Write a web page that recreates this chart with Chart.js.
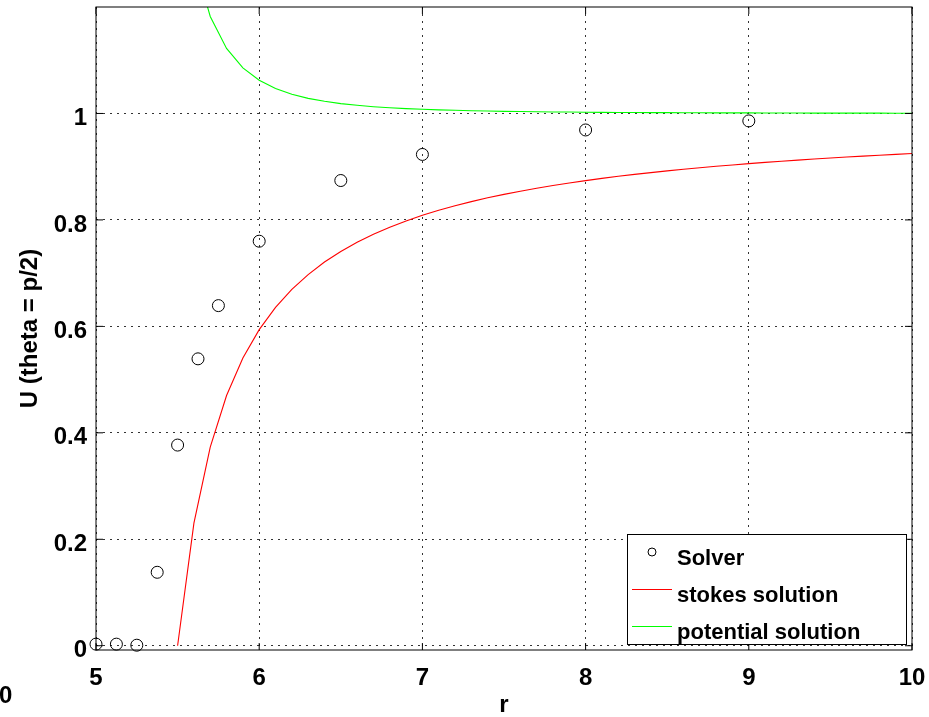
<!DOCTYPE html>
<html>
<head>
<meta charset="utf-8">
<script src="https://cdn.jsdelivr.net/npm/chart.js@4/dist/chart.umd.min.js"></script>
<style>
  html, body { margin: 0; padding: 0; background: #fff; }
  #wrap { width: 929px; height: 717px; }
</style>
</head>
<body>
<div id="wrap"><canvas id="c" width="929" height="717"></canvas></div>
<script>
// Solver samples of U along theta = pi/2
const rSolver = [5, 5.125, 5.25, 5.375, 5.5, 5.625, 5.75, 6, 6.5, 7, 8, 9];
const uSolver = [0.003, 0.003, 0.001, 0.138, 0.377, 0.539, 0.639, 0.760, 0.874, 0.923, 0.969, 0.986];

// Radii at which the analytic curves are sampled
const rCurve = [5.5, 5.6, 5.7, 5.8, 5.9, 6.0, 6.1, 6.2, 6.3, 6.4, 6.5, 6.6, 6.7, 6.8, 6.9,
                7.0, 7.1, 7.2, 7.3, 7.4, 7.5, 7.6, 7.7, 7.8, 7.9, 8.0, 8.1, 8.2, 8.3, 8.4,
                8.5, 8.6, 8.7, 8.8, 8.9, 9.0, 9.1, 9.2, 9.3, 9.4, 9.5, 9.6, 9.7, 9.8, 9.9, 10.0];
const uStokes = [0, 0.2303, 0.3732, 0.4702, 0.5405, 0.5938, 0.6356, 0.6694, 0.6973, 0.7208,
                 0.7407, 0.7580, 0.7731, 0.7863, 0.7981, 0.8086, 0.8181, 0.8266, 0.8344, 0.8415,
                 0.8480, 0.8540, 0.8595, 0.8646, 0.8694, 0.8738, 0.8780, 0.8819, 0.8855, 0.8889,
                 0.8921, 0.8952, 0.8980, 0.9007, 0.9033, 0.9058, 0.9081, 0.9103, 0.9124, 0.9144,
                 0.9163, 0.9182, 0.9199, 0.9216, 0.9232, 0.9248];
const uPotential = [1.5, 1.2894, 1.1822, 1.1221, 1.0857, 1.0625, 1.0470, 1.0362, 1.0284, 1.0228,
                    1.0185, 1.0153, 1.0127, 1.0107, 1.0091, 1.0078, 1.0067, 1.0059, 1.0051, 1.0045,
                    1.0040, 1.0036, 1.0032, 1.0028, 1.0026, 1.0023, 1.0021, 1.0019, 1.0017, 1.0016,
                    1.0015, 1.0013, 1.0012, 1.0011, 1.0011, 1.0010, 1.0009, 1.0008, 1.0008, 1.0007,
                    1.0007, 1.0006, 1.0006, 1.0006, 1.0005, 1.0005];

// Axis ticks and their labels
const xTicks = [5, 6, 7, 8, 9, 10];
const xTickLabels = ['5', '6', '7', '8', '9', '10'];
const yTicks = [0, 0.2, 0.4, 0.6, 0.8, 1.0];
const yTickLabels = ['0', '0.2', '0.4', '0.6', '0.8', '1'];

const seriesLabels = ['Solver', 'stokes solution', 'potential solution'];
const FONT = '"Liberation Sans", Arial, Helvetica, sans-serif';

function pts(xs, ys) { return xs.map((x, i) => ({ x: x, y: ys[i] })); }

// Frame, inward tick marks, boxed legend and the stray edge label
const framePlugin = {
  id: 'frame',
  afterDraw(chart) {
    const ctx = chart.ctx;
    const a = chart.chartArea;
    const xs = chart.scales.x, ys = chart.scales.y;
    ctx.save();
    ctx.strokeStyle = '#000';
    ctx.lineWidth = 1;
    ctx.setLineDash([]);
    // inward ticks on all four sides
    const tl = 7;
    ctx.beginPath();
    xTicks.forEach(v => {
      const px = xs.getPixelForValue(v);
      ctx.moveTo(px, a.bottom); ctx.lineTo(px, a.bottom - tl);
      ctx.moveTo(px, a.top); ctx.lineTo(px, a.top + tl);
    });
    yTicks.forEach(v => {
      const py = ys.getPixelForValue(v);
      ctx.moveTo(a.left, py); ctx.lineTo(a.left + tl, py);
      ctx.moveTo(a.right, py); ctx.lineTo(a.right - tl, py);
    });
    ctx.stroke();
    // axes box
    ctx.strokeRect(a.left, a.top, a.right - a.left, a.bottom - a.top);

    // legend
    const lx = 627, ly = 534, lw = 279, lh = 110;
    ctx.fillStyle = '#fff';
    ctx.fillRect(lx, ly, lw, lh);
    ctx.strokeRect(lx + 0.5, ly + 0.5, lw, lh);
    ctx.font = 'bold 22px ' + FONT;
    ctx.fillStyle = '#000';
    ctx.textAlign = 'left';
    ctx.textBaseline = 'alphabetic';
    const ds = chart.data.datasets;
    // Solver entry
    ctx.beginPath();
    ctx.arc(652, 552, 4, 0, Math.PI * 2);
    ctx.strokeStyle = ds[0].borderColor;
    ctx.stroke();
    ctx.fillText(ds[0].label, 677, 565);
    // line entries
    ctx.beginPath();
    ctx.strokeStyle = ds[1].borderColor;
    ctx.moveTo(632, 589.5); ctx.lineTo(672, 589.5);
    ctx.stroke();
    ctx.fillText(ds[1].label, 677, 602);
    ctx.beginPath();
    ctx.strokeStyle = ds[2].borderColor;
    ctx.moveTo(632, 626.5); ctx.lineTo(672, 626.5);
    ctx.stroke();
    ctx.fillText(ds[2].label, 677, 638.5);

    // partially visible label at the lower-left edge
    ctx.font = 'bold 24px ' + FONT;
    ctx.fillText('0', -1, 703);
    ctx.restore();
  }
};

new Chart(document.getElementById('c'), {
  type: 'scatter',
  data: {
    datasets: [
      {
        label: seriesLabels[0],
        data: pts(rSolver, uSolver),
        showLine: false,
        pointStyle: 'circle',
        pointRadius: 6,
        pointBorderWidth: 1,
        borderColor: '#000',
        backgroundColor: 'rgba(0,0,0,0)',
        pointBackgroundColor: 'rgba(0,0,0,0)',
        clip: false
      },
      {
        label: seriesLabels[1],
        data: pts(rCurve, uStokes),
        showLine: true,
        borderColor: '#ff0000',
        borderWidth: 1.1,
        pointRadius: 0,
        tension: 0,
        clip: 0
      },
      {
        label: seriesLabels[2],
        data: pts(rCurve, uPotential),
        showLine: true,
        borderColor: '#00ff00',
        borderWidth: 1.1,
        pointRadius: 0,
        tension: 0,
        clip: 0
      }
    ]
  },
  options: {
    responsive: false,
    animation: false,
    devicePixelRatio: 1,
    layout: { padding: { left: 0, top: 7, right: 17, bottom: 0 } },
    plugins: {
      legend: { display: false },
      tooltip: { enabled: false }
    },
    scales: {
      x: {
        type: 'linear',
        min: 5,
        max: 10,
        afterBuildTicks: s => { s.ticks = xTicks.map(v => ({ value: v })); },
        afterFit: s => { s.height = 67; s.paddingLeft = 0; s.paddingRight = 0; },
        ticks: {
          autoSkip: false,
          maxRotation: 0,
          padding: 14,
          color: '#000',
          font: { family: FONT, size: 24, weight: 'bold' },
          callback: (v) => xTickLabels[xTicks.indexOf(v)]
        },
        grid: { color: 'rgba(0,0,0,0.8)', lineWidth: 1, drawTicks: false },
        border: { display: false, dash: [2, 5] },
        title: {
          display: true,
          text: 'r',
          color: '#000',
          font: { family: FONT, size: 24, weight: 'bold', lineHeight: 1 },
          padding: { top: 0, bottom: 0 }
        }
      },
      y: {
        type: 'linear',
        min: -0.008,
        max: 1.2,
        afterBuildTicks: s => { s.ticks = yTicks.map(v => ({ value: v })); },
        afterFit: s => { s.width = 96; s.paddingTop = 0; s.paddingBottom = 0; },
        ticks: {
          autoSkip: false,
          padding: 9,
          labelOffset: 5,
          color: '#000',
          font: { family: FONT, size: 24, weight: 'bold' },
          callback: (v) => yTickLabels[yTicks.findIndex(t => Math.abs(t - v) < 1e-9)]
        },
        grid: { color: 'rgba(0,0,0,0.8)', lineWidth: 1, drawTicks: false },
        border: { display: false, dash: [2, 5] },
        title: {
          display: true,
          text: 'U (theta = p/2)',
          color: '#000',
          font: { family: FONT, size: 24, weight: 'bold', lineHeight: 1.2 },
          padding: { top: 16, bottom: 0 }
        }
      }
    }
  },
  plugins: [framePlugin]
});
</script>
</body>
</html>
